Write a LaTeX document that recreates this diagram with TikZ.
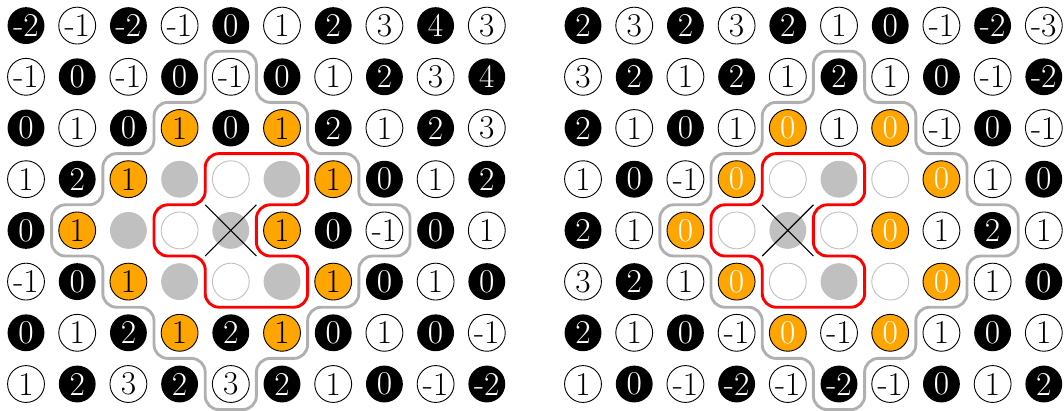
\documentclass[tikz,border=0pt]{standalone}
\usetikzlibrary{calc}
\definecolor{myorange}{HTML}{FFA500}
\definecolor{mygray}{HTML}{C0C0C0}
\definecolor{linegray}{HTML}{B0B0B0}
\tikzset{
  cellbase/.style={circle, inner sep=0pt, minimum size=0.72cm, font=\fontsize{18.5}{20}\selectfont},
  cellB/.style={cellbase, fill=black, text=white},
  cellW/.style={cellbase, draw=black, line width=0.5pt, fill=white, text=black},
  cellO/.style={cellbase, draw=black, line width=0.5pt, fill=myorange, text=black},
  cellP/.style={cellbase, draw=black, line width=0.5pt, fill=myorange, text=white},
  cellG/.style={cellbase, fill=mygray},
  cellX/.style={cellbase, fill=mygray},
  cellE/.style={cellbase, draw=mygray, line width=0.5pt, fill=white},
  graycont/.style={draw=linegray, line width=1.6pt, rounded corners=0.27cm},
  redcont/.style={draw=red, line width=1.6pt, rounded corners=0.27cm},
  xline/.style={draw=black, line width=0.6pt},
}
\begin{document}
\begin{tikzpicture}
\useasboundingbox (0,-8.008) rectangle (20.781,0);
% left grid
\begin{scope}[shift={(0.508,-0.5)}]
\foreach \row [count=\r from 0] in {
 {B/-2,W/-1,B/-2,W/-1,B/0,W/1,B/2,W/3,B/4,W/3},
 {W/-1,B/0,W/-1,B/0,W/-1,B/0,W/1,B/2,W/3,B/4},
 {B/0,W/1,B/0,O/1,B/0,O/1,B/2,W/1,B/2,W/3},
 {W/1,B/2,O/1,G/{},E/{},G/{},O/1,B/0,W/1,B/2},
 {B/0,O/1,G/{},E/{},X/{},O/1,B/0,W/-1,B/0,W/1},
 {W/-1,B/0,O/1,G/{},E/{},G/{},O/1,B/0,W/1,B/0},
 {B/0,W/1,B/2,O/1,B/2,O/1,B/0,W/1,B/0,W/-1},
 {W/1,B/2,W/3,B/2,W/3,B/2,W/1,B/0,W/-1,B/-2}}{
  \foreach \t/\v [count=\c from 0] in \row {
    \node[cell\t] (L-\r-\c) at (\c,-\r) {\v};
  }
}
\draw[xline] ($(L-4-4)+(-0.5,0.5)$) -- ($(L-4-4)+(0.5,-0.5)$);
\draw[xline] ($(L-4-4)+(-0.5,-0.5)$) -- ($(L-4-4)+(0.5,0.5)$);
\draw[graycont] (3.5,-0.5) -- (4.5,-0.5) -- (4.5,-1.5) -- (5.5,-1.5) -- (5.5,-2.5) -- (6.5,-2.5) -- (6.5,-3.5) -- (7.5,-3.5) -- (7.5,-4.5) -- (6.5,-4.5) -- (6.5,-5.5) -- (5.5,-5.5) -- (5.5,-6.5) -- (4.5,-6.5) -- (4.5,-7.5) -- (3.5,-7.5) -- (3.5,-6.5) -- (2.5,-6.5) -- (2.5,-5.5) -- (1.5,-5.5) -- (1.5,-4.5) -- (0.5,-4.5) -- (0.5,-3.5) -- (1.5,-3.5) -- (1.5,-2.5) -- (2.5,-2.5) -- (2.5,-1.5) -- (3.5,-1.5) -- cycle;
\draw[redcont] (3.5,-2.5) -- (5.5,-2.5) -- (5.5,-3.5) -- (4.5,-3.5) -- (4.5,-4.5) -- (5.5,-4.5) -- (5.5,-5.5) -- (3.5,-5.5) -- (3.5,-4.5) -- (2.5,-4.5) -- (2.5,-3.5) -- (3.5,-3.5) -- cycle;
\end{scope}
% right grid
\begin{scope}[shift={(11.387,-0.5)}]
\foreach \row [count=\r from 0] in {
 {B/2,W/3,B/2,W/3,B/2,W/1,B/0,W/-1,B/-2,W/-3},
 {W/3,B/2,W/1,B/2,W/1,B/2,W/1,B/0,W/-1,B/-2},
 {B/2,W/1,B/0,W/1,P/0,W/1,P/0,W/-1,B/0,W/-1},
 {W/1,B/0,W/-1,P/0,E/{},G/{},E/{},P/0,W/1,B/0},
 {B/2,W/1,P/0,E/{},X/{},E/{},P/0,W/1,B/2,W/1},
 {W/3,B/2,W/1,P/0,E/{},G/{},E/{},P/0,W/1,B/0},
 {B/2,W/1,B/0,W/-1,P/0,W/-1,P/0,W/1,B/0,W/1},
 {W/1,B/0,W/-1,B/-2,W/-1,B/-2,W/-1,B/0,W/1,B/2}}{
  \foreach \t/\v [count=\c from 0] in \row {
    \node[cell\t] (R-\r-\c) at (\c,-\r) {\v};
  }
}
\draw[xline] ($(R-4-4)+(-0.5,0.5)$) -- ($(R-4-4)+(0.5,-0.5)$);
\draw[xline] ($(R-4-4)+(-0.5,-0.5)$) -- ($(R-4-4)+(0.5,0.5)$);
\draw[graycont] (4.5,-0.5) -- (5.5,-0.5) -- (5.5,-1.5) -- (6.5,-1.5) -- (6.5,-2.5) -- (7.5,-2.5) -- (7.5,-3.5) -- (8.5,-3.5) -- (8.5,-4.5) -- (7.5,-4.5) -- (7.5,-5.5) -- (6.5,-5.5) -- (6.5,-6.5) -- (5.5,-6.5) -- (5.5,-7.5) -- (4.5,-7.5) -- (4.5,-6.5) -- (3.5,-6.5) -- (3.5,-5.5) -- (2.5,-5.5) -- (2.5,-4.5) -- (1.5,-4.5) -- (1.5,-3.5) -- (2.5,-3.5) -- (2.5,-2.5) -- (3.5,-2.5) -- (3.5,-1.5) -- (4.5,-1.5) -- cycle;
\draw[redcont] (3.5,-2.5) -- (5.5,-2.5) -- (5.5,-3.5) -- (4.5,-3.5) -- (4.5,-4.5) -- (5.5,-4.5) -- (5.5,-5.5) -- (3.5,-5.5) -- (3.5,-4.5) -- (2.5,-4.5) -- (2.5,-3.5) -- (3.5,-3.5) -- cycle;
\end{scope}
\end{tikzpicture}
\end{document}
